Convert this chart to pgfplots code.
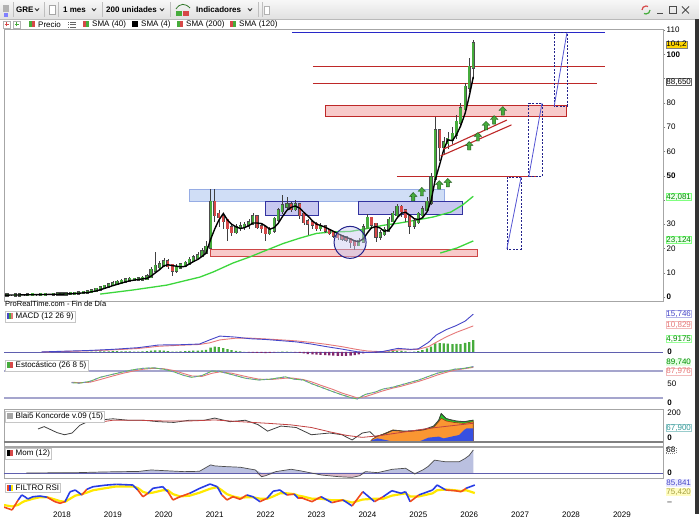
\documentclass[border=0pt]{standalone}
\usepackage{pgfplots}
\pgfplotsset{compat=1.18}
\usepackage{pgfplotstable}
\usepgfplotslibrary{fillbetween}
\usepackage{fontspec}
\setmainfont{Liberation Sans}

\definecolor{upg}{RGB}{70,172,60}
\definecolor{dnr}{RGB}{214,72,72}
\definecolor{zlbF}{RGB}{208,222,246}
\definecolor{zlbD}{RGB}{150,172,228}
\definecolor{zbF}{RGB}{200,200,240}
\definecolor{zbD}{RGB}{50,50,160}
\definecolor{zpF}{RGB}{248,202,202}
\definecolor{zpD}{RGB}{205,70,70}
\definecolor{redl}{RGB}{190,40,40}
\definecolor{bluel}{RGB}{40,40,200}
\definecolor{smag}{RGB}{60,215,60}
\definecolor{navy}{RGB}{35,35,140}
\definecolor{macdb}{RGB}{70,70,200}
\definecolor{macdr}{RGB}{230,120,120}
\definecolor{macdn}{RGB}{130,40,110}
\definecolor{zerol}{RGB}{95,95,175}
\definecolor{stl}{RGB}{165,165,205}
\definecolor{kgreen}{RGB}{40,200,40}
\definecolor{korange}{RGB}{250,150,50}
\definecolor{kblue}{RGB}{55,80,225}
\definecolor{kbrown}{RGB}{150,60,20}
\definecolor{momP}{RGB}{186,192,224}
\definecolor{momN}{RGB}{220,185,200}
\definecolor{rsiY}{RGB}{255,232,0}
\definecolor{rsiB}{RGB}{40,60,230}
\definecolor{rsiR}{RGB}{240,75,30}
\definecolor{tagY}{RGB}{255,214,0}

\newcommand{\fs}{\fontsize{8}{9}\selectfont}

\pgfdeclareplotmark{uparrow}{%
  \pgfpathmoveto{\pgfqpoint{0pt}{4.5pt}}%
  \pgfpathlineto{\pgfqpoint{3.8pt}{0.6pt}}%
  \pgfpathlineto{\pgfqpoint{1.6pt}{0.6pt}}%
  \pgfpathlineto{\pgfqpoint{1.6pt}{-4pt}}%
  \pgfpathlineto{\pgfqpoint{-1.6pt}{-4pt}}%
  \pgfpathlineto{\pgfqpoint{-1.6pt}{0.6pt}}%
  \pgfpathlineto{\pgfqpoint{-3.8pt}{0.6pt}}%
  \pgfpathclose
  \pgfusepathqfillstroke}

\pgfplotsset{panel/.style={
  scale only axis, width=659pt, anchor=south west,
  xmin=2016.861, xmax=2029.807,
  axis line style={draw=black!35, line width=0.5pt},
  xtick=\empty, ytick=\empty}}
\tikzset{tag/.style={anchor=west, font=\fs, inner sep=0.3pt, line width=0.3pt}}

% candles: t, body low, body high, low, high
\pgfplotstableread{
t lo hi l h
2016.92 0.75 0.80 0.72 0.85
2017.00 0.80 0.80 0.76 0.85
2017.08 0.80 0.85 0.78 0.90
2017.17 0.85 0.90 0.82 0.95
2017.25 0.90 0.90 0.86 0.96
2017.33 0.90 0.95 0.87 1.00
2017.42 0.95 1.00 0.92 1.06
2017.50 1.00 1.00 0.95 1.06
2017.58 1.00 1.05 0.97 1.10
2017.67 1.05 1.10 1.00 1.15
2017.75 1.10 1.10 1.05 1.16
2017.83 1.10 1.15 1.06 1.22
2017.92 1.15 1.20 1.10 1.26
2018.00 1.20 1.25 1.15 1.32
2018.08 1.25 1.30 1.20 1.38
2018.17 1.30 1.40 1.25 1.48
2018.25 1.40 1.50 1.35 1.60
2018.33 1.50 1.70 1.45 1.85
2018.42 1.70 1.90 1.62 2.10
2018.50 1.90 2.20 1.80 2.50
2018.58 2.20 2.60 2.10 2.90
2018.67 2.60 3.20 2.50 3.60
2018.75 3.20 3.80 3.00 4.30
2018.83 3.80 4.40 3.60 5.00
2018.92 4.40 5.00 4.20 5.80
2019.00 5.00 5.50 4.60 6.50
2019.08 5.50 6.00 5.20 7.00
2019.17 6.00 6.50 5.60 7.40
2019.25 6.50 7.00 6.10 8.00
2019.33 7.00 7.20 6.40 8.20
2019.42 7.20 7.30 6.60 8.00
2019.50 7.30 7.40 6.70 8.10
2019.58 7.40 7.60 6.80 8.50
2019.67 7.60 8.40 7.20 9.50
2019.75 8.40 11.00 8.00 12.50
2019.83 11.00 12.60 10.50 18.50
2019.92 12.60 13.20 11.50 15.00
2020.00 13.20 14.40 12.50 16.00
2020.25 11.00 12.30 10.00 13.50
2020.33 12.30 13.20 11.50 14.20
2020.42 13.20 13.80 12.50 15.00
2020.50 13.80 15.00 13.00 16.50
2020.58 15.00 16.20 14.50 17.50
2020.67 16.20 17.00 15.50 18.50
2020.75 17.00 18.50 16.50 20.00
2020.83 18.50 20.50 18.00 23.00
2020.92 20.50 39.00 20.00 44.50
2021.42 27.00 28.50 26.00 30.00
2021.50 28.50 29.00 27.00 31.00
2021.58 29.00 29.50 27.50 31.00
2021.67 29.50 30.50 28.00 32.00
2021.75 30.50 33.00 29.50 34.50
2022.08 26.50 27.50 25.50 29.00
2022.17 27.50 32.00 26.50 33.00
2022.25 32.00 35.50 31.00 36.50
2022.33 35.50 37.50 34.00 42.00
2022.42 37.50 38.00 36.00 41.00
2022.58 36.50 38.00 35.50 40.00
2023.08 28.50 29.00 27.00 30.50
2023.83 21.50 23.00 21.00 24.50
2023.92 23.00 28.50 22.50 30.00
2024.00 28.50 32.50 28.00 34.00
2024.25 25.00 26.00 23.50 27.50
2024.33 26.00 27.50 25.00 29.00
2024.42 27.50 31.50 27.00 33.00
2024.50 31.50 34.00 31.00 35.50
2024.58 34.00 37.00 33.00 38.50
2024.92 29.50 31.00 28.00 32.00
2025.00 31.00 34.00 30.00 35.00
2025.08 34.00 36.00 33.00 37.50
2025.17 36.00 39.00 35.00 41.00
2025.25 39.00 49.00 38.00 51.00
2025.33 49.00 68.50 48.00 74.00
2025.50 62.00 63.50 58.50 66.00
2025.58 63.50 65.00 61.00 68.00
2025.67 65.00 67.00 63.00 70.00
2025.75 67.00 72.00 65.00 75.00
2025.83 72.00 77.50 70.00 80.00
2025.92 77.50 86.40 76.00 88.00
2026.00 86.40 94.70 84.50 98.50
2026.08 94.70 104.20 90.00 106.00
}\upc

\pgfplotstableread{
t lo hi l h
2020.08 13.00 14.40 11.50 15.50
2020.17 11.00 13.00 8.50 13.50
2021.00 34.00 39.00 31.00 44.50
2021.08 33.00 34.00 29.00 36.00
2021.17 31.50 33.00 28.00 34.00
2021.25 28.50 31.50 23.00 32.00
2021.33 27.00 28.50 25.00 30.00
2021.83 29.00 33.00 28.00 33.50
2021.92 28.50 29.00 26.50 30.00
2022.00 26.50 28.50 23.00 29.00
2022.50 36.50 38.00 35.00 39.00
2022.67 34.00 38.00 32.00 38.50
2022.75 31.00 34.00 29.50 34.50
2022.83 30.50 31.00 25.50 32.00
2022.92 30.00 30.50 28.00 31.50
2023.00 28.50 30.00 27.00 31.00
2023.17 27.50 29.00 26.50 29.50
2023.25 26.50 27.50 25.50 28.00
2023.33 25.50 26.50 24.50 27.00
2023.42 24.80 25.50 23.50 26.00
2023.50 24.30 24.80 23.00 25.50
2023.58 23.80 24.30 22.50 25.00
2023.67 22.80 23.80 20.00 24.50
2023.75 21.50 22.80 19.50 23.50
2024.08 30.00 32.50 28.00 33.00
2024.17 25.00 30.00 22.50 30.50
2024.67 35.50 37.00 33.00 38.00
2024.75 33.00 35.50 31.00 36.00
2024.83 29.50 33.00 26.00 33.50
2025.42 62.00 68.50 56.00 69.00
}\dnc

\pgfplotstableread{
t v
2016.88 0.78
2017.17 0.84
2017.50 0.96
2017.83 1.09
2018.17 1.29
2018.50 1.83
2018.67 2.48
2018.83 3.50
2019.00 4.68
2019.17 5.75
2019.33 6.68
2019.50 7.23
2019.67 7.68
2019.75 8.60
2019.83 9.90
2019.92 11.30
2020.00 12.80
2020.08 13.30
2020.17 12.90
2020.25 12.70
2020.33 12.40
2020.42 12.60
2020.50 13.60
2020.58 14.55
2020.67 15.50
2020.75 16.70
2020.83 18.05
2020.92 23.75
2021.00 28.00
2021.08 31.60
2021.17 34.40
2021.25 31.75
2021.33 30.00
2021.42 28.90
2021.50 28.25
2021.58 28.50
2021.67 29.40
2021.75 30.50
2021.83 30.50
2021.92 30.25
2022.00 29.25
2022.08 27.90
2022.17 28.60
2022.25 30.40
2022.33 33.10
2022.42 35.75
2022.50 36.90
2022.58 37.50
2022.67 36.60
2022.75 34.90
2022.83 33.40
2022.92 31.40
2023.00 30.00
2023.08 29.50
2023.17 28.75
2023.25 27.90
2023.33 27.10
2023.42 26.10
2023.50 25.30
2023.58 24.60
2023.67 23.90
2023.75 23.10
2023.83 22.80
2023.92 24.00
2024.00 26.40
2024.08 28.50
2024.17 29.00
2024.25 28.40
2024.33 27.10
2024.42 27.50
2024.50 29.75
2024.58 32.50
2024.67 34.50
2024.75 34.90
2024.83 33.75
2024.92 32.25
2025.00 31.90
2025.08 32.60
2025.17 35.00
2025.25 39.50
2025.33 48.10
2025.42 54.60
2025.50 60.75
2025.58 64.75
2025.67 64.40
2025.75 66.90
2025.83 70.40
2025.92 75.70
2026.00 82.65
2026.08 90.70
}\smaf

\pgfplotstableread{
t v
2018.75 1.2
2019.40 2.9
2020.06 4.9
2020.71 8.2
2020.97 10.3
2021.36 14.0
2021.69 16.5
2022.03 19.4
2022.34 22.0
2022.68 24.3
2023.00 26.2
2023.30 26.8
2023.66 27.0
2024.00 28.2
2024.30 29.5
2024.64 30.5
2024.97 31.7
2025.30 33.0
2025.64 35.0
2025.87 37.9
2026.08 41.5
}\smas

\pgfplotstableread{
t m s
2017.60 0.02 0.00
2018.00 0.30 0.18
2018.50 0.60 0.47
2019.00 1.10 0.88
2019.50 1.80 1.46
2019.90 2.90 2.37
2020.30 3.00 2.78
2020.70 3.30 3.12
2020.90 5.00 3.80
2021.10 6.60 5.00
2021.40 6.20 5.70
2021.70 5.50 5.75
2022.00 5.20 5.42
2022.30 4.70 5.03
2022.60 4.20 4.61
2022.90 3.30 3.98
2023.20 2.20 3.17
2023.50 1.20 2.21
2023.80 0.10 1.03
2024.00 -0.20 0.41
2024.30 0.20 0.12
2024.60 1.50 0.87
2024.85 1.10 0.99
2025.00 1.30 1.12
2025.20 4.00 2.23
2025.35 7.00 4.01
2025.55 9.30 6.28
2025.75 11.00 8.17
2025.92 12.80 9.52
2026.08 15.70 10.83
}\macd

\pgfplotstableread{
t v
2018.50 0.10
2018.58 0.15
2018.67 0.20
2018.75 0.25
2018.83 0.30
2018.92 0.30
2019.00 0.35
2019.08 0.35
2019.17 0.30
2019.25 0.30
2019.33 0.25
2019.42 0.20
2019.50 0.20
2019.58 0.25
2019.67 0.40
2019.75 0.60
2019.83 0.70
2019.92 0.70
2020.00 0.60
2020.08 0.40
2020.17 0.20
2020.25 0.20
2020.33 0.30
2020.42 0.40
2020.50 0.50
2020.58 0.60
2020.67 0.60
2020.75 0.70
2020.83 0.90
2020.92 1.80
2021.00 2.20
2021.08 2.00
2021.17 1.60
2021.25 1.20
2021.33 0.80
2021.42 0.50
2021.50 0.30
2021.58 0.10
2022.25 0.10
2022.33 0.20
2022.42 0.20
2022.50 0.10
2024.25 0.10
2024.33 0.20
2024.42 0.30
2024.50 0.50
2024.58 0.60
2024.67 0.50
2024.75 0.30
2024.83 0.10
2024.92 0.20
2025.00 0.40
2025.08 0.80
2025.17 1.50
2025.25 2.20
2025.33 3.60
2025.42 3.70
2025.50 3.60
2025.58 3.50
2025.67 3.30
2025.75 3.40
2025.83 3.30
2025.92 3.80
2026.00 4.10
2026.08 4.90
}\macdpos

\pgfplotstableread{
t v
2021.67 -0.15
2021.75 -0.3
2021.83 -0.4
2021.92 -0.4
2022.00 -0.5
2022.08 -0.4
2022.17 -0.15
2022.58 -0.15
2022.67 -0.4
2022.75 -0.6
2022.83 -0.9
2022.92 -1.0
2023.00 -1.1
2023.08 -1.2
2023.17 -1.3
2023.25 -1.4
2023.33 -1.5
2023.42 -1.6
2023.50 -1.6
2023.58 -1.6
2023.67 -1.5
2023.75 -1.3
2023.83 -1.0
2023.92 -0.6
2024.00 -0.3
2024.08 -0.15
2024.17 -0.25
}\macdneg

\pgfplotstableread{
t k d
2018.19 54 55
2018.35 53 54
2018.55 57 55
2018.75 66 61
2018.97 72 68
2019.20 78 75
2019.41 83 80
2019.60 86 84
2019.80 87 86
2020.00 84 85
2020.20 78 81
2020.40 70 74
2020.55 66 69
2020.75 70 68
2020.95 80 75
2021.10 79 78
2021.34 72 75
2021.60 64 68
2021.86 60 62
2022.10 62 61
2022.39 67 64
2022.55 62 64
2022.74 60 61
2022.90 52 56
2023.09 44 48
2023.30 35 40
2023.50 27 31
2023.70 20 24
2023.80 18 20
2023.96 28 23
2024.15 33 30
2024.31 40 36
2024.50 44 42
2024.66 49 46
2024.85 55 52
2025.01 60 57
2025.20 68 64
2025.37 75 71
2025.55 80 77
2025.72 84 82
2025.90 86 85
2026.08 89.7 88
}\stoch

\pgfplotstableread{
t v
2017.53 90
2017.65 106
2017.78 85
2017.90 65
2018.05 50
2018.20 62
2018.35 115
2018.50 140
2018.70 150
2019.00 160
2019.30 150
2019.60 150
2019.90 140
2020.20 135
2020.50 150
2020.80 150
2021.00 165
2021.30 140
2021.60 150
2021.85 120
2022.04 75
2022.30 110
2022.60 100
2022.90 50
2023.26 62
2023.50 50
2023.70 14
2023.90 62
2024.05 71
2024.15 37
2024.30 50
2024.50 80
2024.70 75
2024.90 78
2025.10 85
2025.30 110
2025.40 150
2025.45 195
2025.55 160
2025.75 145
2025.90 140
2026.08 150
}\kblack

\pgfplotstableread{
t v
2018.80 140
2019.00 150
2019.50 150
2020.00 145
2020.50 145
2021.00 152
2021.50 140
2022.04 129
2022.50 118
2022.90 100
2023.26 70
2023.60 45
2023.90 32
2024.20 42
2024.55 60
2025.20 94
2025.60 110
2026.08 129
}\kred

\pgfplotstableread{
t v
2024.05 0
2024.10 14
2024.20 25
2024.35 14
2024.50 3
2024.65 0
2024.95 0
2025.05 8
2025.20 30
2025.40 37
2025.50 25
2025.65 37
2025.80 48
2025.90 83
2025.95 94
2026.08 94
}\kblu

\pgfplotstableread{
t v
2024.05 0
2024.10 20
2024.20 40
2024.35 60
2024.50 83
2024.60 80
2024.75 71
2024.90 75
2025.10 83
2025.30 100
2025.40 140
2025.45 163
2025.55 145
2025.70 135
2025.90 128
2026.08 140
}\kora

\pgfplotstableread{
t v
2024.05 0
2024.10 20
2024.20 40
2024.35 60
2024.50 83
2024.60 80
2024.75 71
2024.90 75
2025.10 83
2025.30 105
2025.40 150
2025.45 198
2025.55 163
2025.70 145
2025.90 140
2026.08 152
}\kgre

\pgfplotstableread{
t v
2017.30 0
2017.80 0.5
2018.30 1
2018.80 3
2019.20 4
2019.50 4.5
2019.75 9
2020.00 7
2020.40 4
2020.70 5
2020.92 24
2021.00 21
2021.20 19
2021.50 17
2021.80 9
2021.92 -11
2022.00 -8
2022.20 4
2022.50 11
2022.70 6
2022.90 0
2023.10 -6
2023.44 -11
2023.70 -13
2023.85 -8
2023.96 4
2024.20 1
2024.49 11
2024.75 14
2024.93 -3
2025.10 10
2025.19 19
2025.32 38
2025.54 33
2025.80 33
2025.92 43
2026.00 52
2026.08 68
}\mom

\pgfplotstableread{
t v s d
2016.84 57.6 60 0
2017.02 53.4 58 0
2017.14 66.4 60 1
2017.21 72.9 63 1
2017.27 70.6 65 1
2017.33 67.7 66 1
2017.43 70.6 68 1
2017.57 71.5 70 1
2017.71 69.9 70 0
2017.86 64.2 67 0
2017.96 62.1 65 0
2018.06 64.2 64 1
2018.16 77.1 68 1
2018.26 79.3 72 1
2018.39 72.9 74 0
2018.49 80.3 76 1
2018.61 83.6 79 1
2018.88 85.8 82 1
2019.07 86.7 84 1
2019.39 85.8 84 1
2019.49 79.3 82 0
2019.59 70.6 77 0
2019.69 75.1 75 1
2019.79 81.6 76 1
2019.98 83.6 79 1
2020.08 77.1 79 0
2020.18 66.4 74 0
2020.32 70.6 71 0
2020.51 75.1 72 1
2020.71 81.6 76 1
2020.91 87.1 81 1
2021.05 83.6 83 1
2021.14 72.9 79 0
2021.24 66.4 74 0
2021.36 70.6 71 0
2021.50 67.3 69 0
2021.63 72.9 70 1
2021.75 70.6 70 1
2021.89 64.2 68 0
2022.03 68.6 68 1
2022.15 77.8 71 1
2022.28 79.3 75 1
2022.42 72.9 75 0
2022.56 74.0 74 1
2022.64 68.6 72 0
2022.73 68.6 71 0
2022.91 64.2 68 0
2023.09 70.6 68 1
2023.30 62.9 66 0
2023.52 66.4 66 1
2023.70 58.6 63 0
2023.91 77.1 67 1
2024.14 64.2 68 0
2024.31 70.6 68 1
2024.48 78.4 72 1
2024.66 75.1 74 1
2024.75 77.1 75 1
2024.84 64.2 71 0
2025.01 72.9 71 1
2025.28 79.3 75 1
2025.37 85.8 79 1
2025.54 79.3 80 0
2025.72 78.4 79 0
2025.84 77.1 78 0
2025.94 81.6 79 1
2026.11 85.8 75.4 1
}\rsi

\begin{document}
\begin{tikzpicture}
\fill[white] (0pt,0pt) rectangle (699pt,524pt);

% ---------- toolbar ----------
\begin{scope}[x=1pt,y=1pt]
\shade[top color=gray!6, bottom color=gray!24] (0,505) rectangle (699,524);
\draw[gray!55] (0,505) -- (699,505);
\foreach \xx in {13,44,58,102,170,258,262} {\draw[gray!50] (\xx,507) -- (\xx,522);}
\fill[gray!60] (3,512) rectangle (9,519);
\fill[blue!50] (4,507) rectangle (8,511);
\node[anchor=west, font=\fs\bfseries, inner sep=0pt] at (16,514.5) {GRE};
\node[anchor=west, font=\fs\bfseries, inner sep=0pt] at (63,514.5) {1 mes};
\node[anchor=west, font=\fs\bfseries, inner sep=0pt] at (106,514.5) {200 unidades};
\node[anchor=west, font=\fs\bfseries, inner sep=0pt] at (196,514.5) {Indicadores};
\foreach \cx in {37,94,162,250} {\draw[line width=0.9pt, black!80] (\cx-2,515.5) -- (\cx,513.3) -- (\cx+2,515.5);}
\draw[gray!70, fill=white] (49,510) rectangle (55,519);
\fill[upg] (176,508) rectangle (182,513);
\fill[dnr] (183,508) rectangle (189,513);
\draw[upg!70!black, line width=0.8pt] (176,515) .. controls (180,521) and (185,521) .. (190,516);
\draw[gray!60, fill=white] (264,510) rectangle (269,518);
% window controls
\draw[dnr, line width=1.2pt] (642,514) arc (180:60:4);
\draw[upg, line width=1.2pt] (650,514) arc (0:-120:4);
\draw[black!70, line width=0.8pt] (657,511) -- (663,511);
\draw[black!70, line width=0.6pt] (669,510.5) rectangle (676,517.5);
\draw[black!70, line width=0.8pt] (682,510.5) -- (689,517.5) (682,517.5) -- (689,510.5);
% legend row
\draw[gray!60, fill=white] (3,496) rectangle (10,503);
\draw[dnr, line width=0.9pt] (4.5,499.5) -- (8.5,499.5) (6.5,497.5) -- (6.5,501.5);
\draw[gray!60, fill=white] (13,496) rectangle (20,503);
\draw[upg, line width=0.9pt] (14.5,499.5) -- (18.5,499.5) (16.5,497.5) -- (16.5,501.5);
\fill[upg] (29,496.5) rectangle (32,502.5); \fill[dnr] (32,496.5) rectangle (35,502.5);
\node[anchor=west, font=\fs, inner sep=0pt] at (38,499.5) {Precio};
\draw[black!60, line width=0.6pt] (70,497) -- (76,497) (70,499.5) -- (76,499.5) (70,502) -- (76,502) (68,497) -- (68.8,497) (68,499.5) -- (68.8,499.5) (68,502) -- (68.8,502);
\fill[dnr] (83,496.5) rectangle (86,502.5); \fill[upg] (86,496.5) rectangle (89,502.5);
\node[anchor=west, font=\fs, inner sep=0pt] at (92,499.5) {SMA (40)};
\fill[black] (132,496.5) rectangle (138,502.5);
\node[anchor=west, font=\fs, inner sep=0pt] at (141,499.5) {SMA (4)};
\fill[upg] (177,496.5) rectangle (180,502.5); \fill[dnr] (180,496.5) rectangle (183,502.5);
\node[anchor=west, font=\fs, inner sep=0pt] at (186,499.5) {SMA (200)};
\fill[dnr] (230,496.5) rectangle (233,502.5); \fill[upg] (233,496.5) rectangle (236,502.5);
\node[anchor=west, font=\fs, inner sep=0pt] at (239,499.5) {SMA (120)};
\end{scope}

% ---------- main price panel ----------
\begin{axis}[panel, at={(4pt,223pt)}, height=272pt, ymin=-1.65, ymax=110.42,
  ytick={0,10,20,30,40,50,60,70,80,90,100,110},
  yticklabels={\textbf{0},10,20,30,{},\textbf{50},60,70,80,{},\textbf{100},110},
  ytick pos=right, yticklabel pos=right, tick align=outside, major tick length=2.5pt,
  ytick style={draw=black!50}, yticklabel style={font=\fs, inner sep=1pt}]
\filldraw[fill=zlbF, draw=zlbD, line width=0.6pt] (axis cs:2020.51,39.6) rectangle (axis cs:2025.52,44.5);
\filldraw[fill=zbF, draw=zbD, line width=0.7pt] (axis cs:2021.99,33.8) rectangle (axis cs:2023.03,39.3);
\filldraw[fill=zbF, draw=zbD, line width=0.7pt] (axis cs:2023.82,34.0) rectangle (axis cs:2025.86,39.2);
\filldraw[fill=zpF, draw=zpD, line width=0.6pt] (axis cs:2020.91,16.9) rectangle (axis cs:2026.15,19.8);
\filldraw[fill=zpF, draw=redl, line width=1pt] (axis cs:2023.17,74.3) rectangle (axis cs:2027.92,78.7);
\draw[bluel, line width=1pt] (axis cs:2022.52,108.9) -- (axis cs:2028.67,108.9);
\draw[redl, line width=1.1pt] (axis cs:2022.93,94.8) -- (axis cs:2028.67,94.8);
\draw[redl, line width=1.1pt] (axis cs:2022.93,87.8) -- (axis cs:2028.51,87.8);
\draw[redl, line width=1.1pt] (axis cs:2024.58,49.8) -- (axis cs:2027.35,49.8);
% SMA 40 / 120
\addplot[smag, line width=1.3pt] table[x=t,y=v] {\smas};
\addplot[smag, line width=1.3pt] coordinates {(2025.43,18.1) (2025.76,20.2) (2026.08,23.1)};
% wicks
\addplot[draw=none, error bars/.cd, y dir=both, y explicit, error mark=none,
  error bar style={draw=black!75, line width=0.5pt}]
  table[x=t, y=lo, y error plus expr=\thisrow{h}-\thisrow{lo}, y error minus expr=\thisrow{lo}-\thisrow{l}] {\upc};
\addplot[draw=none, error bars/.cd, y dir=both, y explicit, error mark=none,
  error bar style={draw=black!75, line width=0.5pt}]
  table[x=t, y=lo, y error plus expr=\thisrow{h}-\thisrow{lo}, y error minus expr=\thisrow{lo}-\thisrow{l}] {\dnc};
% bodies
\addplot[draw=none, error bars/.cd, y dir=plus, y explicit, error mark=none,
  error bar style={draw=black!70, line width=3.2pt, line cap=rect}]
  table[x=t, y=lo, y error plus expr=\thisrow{hi}-\thisrow{lo}] {\upc};
\addplot[draw=none, error bars/.cd, y dir=plus, y explicit, error mark=none,
  error bar style={draw=upg, line width=2.2pt, line cap=rect}]
  table[x=t, y=lo, y error plus expr=\thisrow{hi}-\thisrow{lo}] {\upc};
\addplot[draw=none, error bars/.cd, y dir=plus, y explicit, error mark=none,
  error bar style={draw=black!70, line width=3.2pt, line cap=rect}]
  table[x=t, y=lo, y error plus expr=\thisrow{hi}-\thisrow{lo}] {\dnc};
\addplot[draw=none, error bars/.cd, y dir=plus, y explicit, error mark=none,
  error bar style={draw=dnr, line width=2.2pt, line cap=rect}]
  table[x=t, y=lo, y error plus expr=\thisrow{hi}-\thisrow{lo}] {\dnc};
% SMA 4
\addplot[black, line width=1.4pt] table[x=t,y=v] {\smaf};
% trend lines
\draw[redl, line width=1.1pt] (axis cs:2025.44,58.1) -- (axis cs:2026.83,70.9);
\draw[redl, line width=1.1pt] (axis cs:2025.49,60.9) -- (axis cs:2026.74,72.9);
% circle
\filldraw[fill=zbF, fill opacity=0.45, draw=navy, line width=1pt] (axis cs:2023.66,22.5) circle[radius=16pt];
% projection boxes
\draw[navy, line width=0.6pt, dash pattern=on 2pt off 1.5pt] (axis cs:2026.74,19.8) rectangle (axis cs:2027.02,49.4);
\draw[bluel!80, line width=0.8pt] (axis cs:2026.74,19.8) -- (axis cs:2027.02,49.4);
\draw[navy, line width=0.6pt, dash pattern=on 2pt off 1.5pt] (axis cs:2027.17,49.6) rectangle (axis cs:2027.43,79.9);
\draw[bluel!80, line width=0.8pt] (axis cs:2027.17,49.6) -- (axis cs:2027.43,79.9);
\draw[navy, line width=0.6pt, dash pattern=on 2pt off 1.5pt] (axis cs:2027.67,78.7) rectangle (axis cs:2027.92,108.9);
\draw[bluel!80, line width=0.8pt] (axis cs:2027.67,78.7) -- (axis cs:2027.92,108.9);
% arrows
\addplot[only marks, mark=uparrow, mark options={fill=upg, draw=upg!50!black, line width=0.4pt}]
  coordinates {(2024.90,41.2) (2025.07,43.3) (2025.41,46.1) (2025.58,47.0)
  (2026.00,62.2) (2026.17,65.9) (2026.33,70.5) (2026.49,72.9) (2026.66,76.6)};
\end{axis}

% ---------- MACD ----------
\begin{axis}[panel, at={(4pt,167pt)}, height=48pt, ymin=-2.075, ymax=17.84]
\addplot[zerol, line width=0.8pt] coordinates {(2016.861,0) (2029.807,0)};
\addplot[ybar, bar width=2.3pt, fill=upg, draw=none] table[x=t,y=v] {\macdpos};
\addplot[ybar, bar width=2.3pt, fill=macdn, draw=none] table[x=t,y=v] {\macdneg};
\addplot[draw=none, name path=macdl] table[x=t,y=m] {\macd};
\addplot[draw=none, name path=sigl] table[x=t,y=s] {\macd};
\addplot[fill=green!30, draw=none] fill between[of=macdl and sigl, soft clip={domain=2016.8:2021.6}];
\addplot[fill=red!22, draw=none] fill between[of=macdl and sigl, soft clip={domain=2021.6:2024.265}];
\addplot[fill=green!30, draw=none] fill between[of=macdl and sigl, soft clip={domain=2024.265:2026.2}];
\addplot[macdr, line width=0.9pt] table[x=t,y=s] {\macd};
\addplot[macdb, line width=0.9pt] table[x=t,y=m] {\macd};
\end{axis}

% ---------- Stochastic ----------
\begin{axis}[panel, at={(4pt,115pt)}, height=51pt, ymin=-4.44, ymax=108.9]
\addplot[stl, line width=1.8pt] coordinates {(2016.861,80) (2029.807,80)};
\addplot[stl, line width=1.8pt] coordinates {(2016.861,20) (2029.807,20)};
\addplot[draw=none, name path=kl] table[x=t,y=k]{\stoch};
\addplot[draw=none, name path=dl] table[x=t,y=d]{\stoch};
\addplot[fill=red!15, draw=none] fill between[of=kl and dl];
\addplot[macdr, line width=0.9pt] table[x=t,y=d]{\stoch};
\addplot[upg!85, line width=0.9pt] table[x=t,y=k]{\stoch};
\addplot[macdb!70, line width=0.9pt, dash pattern=on 2pt off 4pt] table[x=t,y=k]{\stoch};
\end{axis}

% ---------- Koncorde ----------
\begin{axis}[panel, at={(4pt,78pt)}, height=37pt, ymin=-27.6, ymax=227.6]
\addplot[fill=kgreen, draw=kgreen!60!black, line width=0.4pt] table[x=t,y=v]{\kgre} \closedcycle;
\addplot[fill=korange, draw=kbrown, line width=0.6pt] table[x=t,y=v]{\kora} \closedcycle;
\addplot[fill=kblue, draw=none] table[x=t,y=v]{\kblu} \closedcycle;
\addplot[black!50, line width=1.6pt] coordinates {(2016.861,0) (2029.807,0)};
\addplot[black!75, line width=0.8pt] table[x=t,y=v]{\kblack};
\addplot[dnr!90!black, line width=0.8pt] table[x=t,y=v]{\kred};
\end{axis}

% ---------- Momentum ----------
\begin{axis}[panel, at={(4pt,46pt)}, height=31pt, ymin=-14.8, ymax=76.9]
\addplot[fill=momP, draw=none] table[x=t, y expr={max(\thisrow{v},0)}]{\mom} \closedcycle;
\addplot[fill=momN, draw=none] table[x=t, y expr={min(\thisrow{v},0)}]{\mom} \closedcycle;
\addplot[zerol, line width=0.8pt] coordinates {(2016.861,0) (2029.807,0)};
\addplot[black!70, line width=0.7pt] table[x=t,y=v]{\mom};
\end{axis}

% ---------- RSI filter ----------
\begin{axis}[panel, at={(4pt,13pt)}, height=32pt, ymin=52.07, ymax=93.63,
  xtick={2018,2019,2020,2021,2022,2023,2024,2025,2026,2027,2028,2029},
  xticklabels={2018,2019,2020,2021,2022,2023,2024,2025,2026,2027,2028,2029},
  xtick pos=bottom, xticklabel style={font=\fs, inner sep=1pt}, major tick length=0pt,
  point meta min=0, point meta max=1]
\addplot[draw=none, name path=rsil] table[x=t,y=v]{\rsi};
\addplot[draw=none, name path=sgl] table[x=t,y=s]{\rsi};
\addplot[fill=rsiB!30, draw=none] fill between[of=rsil and sgl];
\addplot[rsiY, line width=2.2pt] table[x=t,y=s]{\rsi};
\addplot[mesh, shader=flat corner, colormap={rsicm}{color=(rsiR) color=(rsiB)}, point meta=explicit, line width=1.6pt] table[x=t,y=v,meta=d]{\rsi};
\end{axis}

% ---------- panel labels, tags ----------
\begin{scope}[x=1pt,y=1pt]
\node[anchor=west, font=\fontsize{7.5}{9}\selectfont, inner sep=0pt] at (5,220) {ProRealTime.com - Fin de Día};
\node[anchor=north west, draw=gray!45, fill=white, font=\fs, inner sep=1.5pt] at (5,213)
  {\textcolor{macdb}{\rule{2pt}{6pt}}\textcolor{upg}{\rule{2pt}{6pt}}\textcolor{macdr}{\rule{2pt}{6pt}}\hspace{3pt}MACD (12 26 9)};
\node[anchor=north west, draw=gray!45, fill=white, font=\fs, inner sep=1.5pt] at (5,164)
  {\textcolor{upg}{\rule{3pt}{6pt}}\textcolor{dnr}{\rule{3pt}{6pt}}\hspace{3pt}Estocástico (26 8 5)};
\node[anchor=north west, draw=gray!45, fill=white, font=\fs, inner sep=1.5pt] at (5,113)
  {\textcolor{gray!70}{\rule{6pt}{6pt}}\hspace{3pt}Blai5 Koncorde v.09 (15)};
\node[anchor=north west, draw=gray!45, fill=white, font=\fs, inner sep=1.5pt] at (5,76)
  {\textcolor{black}{\rule{3pt}{6pt}}\textcolor{dnr}{\rule{3pt}{6pt}}\hspace{3pt}Mom (12)};
\node[anchor=north west, draw=gray!45, fill=white, font=\fs, inner sep=1.5pt] at (5,41)
  {\textcolor{rsiR}{\rule{2pt}{6pt}}\textcolor{rsiB}{\rule{2pt}{6pt}}\textcolor{rsiY}{\rule{2pt}{6pt}}\hspace{3pt}FILTRO RSI};
% main tags
\node[tag, fill=tagY, draw=black!50] at (666,479.7) {104,2};
\node[tag, fill=white, draw=black!60] at (666,442) {88,650};
\node[tag, text=green!55!black, fill=green!8, draw=green!50] at (666,327) {42,081};
\node[tag, text=green!55!black, fill=green!8, draw=green!50] at (666,284) {23,124};
% MACD labels
\node[tag, text=macdb, fill=white, draw=macdb!40] at (666,210) {15,746};
\node[tag, text=macdr, fill=white, draw=macdr!50] at (666,199) {10,829};
\node[tag, text=green!55!black, fill=white, draw=green!40] at (666,185) {4,9175};
\node[tag, font=\fs\bfseries] at (667,172) {0};
% Stoch labels
\node[tag, text=green!55!black, fill=green!12] at (666,161.5) {89,740};
\node[tag, text=macdr, fill=white, draw=macdr!50] at (666,152.5) {87,976};
\node[tag] at (667,140) {50};
\node[tag, font=\fs\bfseries] at (667,121) {0};
% Koncorde labels
\node[tag] at (667,111) {200};
\node[tag, text=teal!80, fill=white, draw=teal!40] at (666,96) {67,900};
\node[tag, font=\fs\bfseries] at (667,86) {0};
% Mom labels
\node[tag, draw=black!50, dash pattern=on 1pt off 1pt] at (666,74) {68};
\node[tag, font=\fs\bfseries] at (667,51) {0};
% RSI labels
\node[tag, text=macdb, fill=blue!8] at (666,41) {85,841};
\node[tag, text=yellow!60!black, fill=yellow!25] at (666,32) {75,420};
\node[tag] at (667,20.5) {--};
% right window edge
\fill[black!80] (695,10) rectangle (699,505);
\end{scope}
\pgfresetboundingbox
\useasboundingbox (0pt,0pt) rectangle (699pt,524pt);
\end{tikzpicture}
\end{document}
